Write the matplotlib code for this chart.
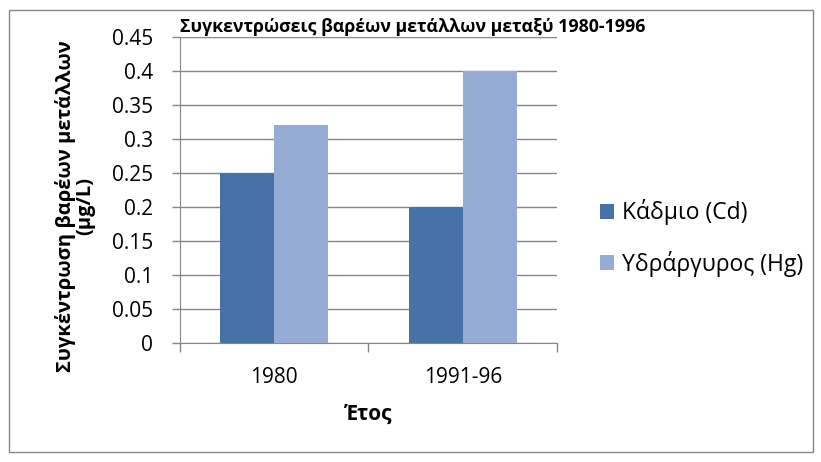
import numpy as np
import matplotlib.pyplot as plt
from matplotlib.patches import Rectangle

plt.rcParams['font.family'] = ['Open Sans', 'DejaVu Sans']

years = ['1980', '1991-96']
cadmium = [0.25, 0.20]
mercury = [0.32, 0.40]
series_names = ['Κάδμιο (Cd)', 'Υδράργυρος (Hg)']
yticks = np.arange(0, 0.451, 0.05)
ytick_labels = ['0', '0.05', '0.1', '0.15', '0.2', '0.25', '0.3', '0.35', '0.4', '0.45']

fig = plt.figure(figsize=(8.21, 4.62), dpi=100)
ax = fig.add_axes([0.2192, 0.2576, 0.4592, 0.6623])

x = np.arange(len(years))
w = 1 / 3.5
ax.bar(x - w / 2, cadmium, w, color='#4672A8', label=series_names[0], zorder=3)
ax.bar(x + w / 2, mercury, w, color='#97ACD5', label=series_names[1], zorder=3)

ax.set_xlim(-0.5, 1.5)
ax.set_ylim(0, 0.45)
ax.set_yticks(yticks)
ax.set_yticklabels(ytick_labels, fontsize=15)
ax.set_xticks(x)
ax.set_xticklabels(years, fontsize=15)
ax.set_xticks([-0.5, 0.5, 1.5], minor=True)
ax.tick_params(axis='x', which='major', length=0, pad=17)
ax.tick_params(axis='x', which='minor', length=6.5, color='#868686', width=1)
ax.tick_params(axis='y', length=5.8, color='#868686', width=1, pad=13.5)
ax.grid(axis='y', color='#868686', linewidth=1, zorder=0)

for side in ['top', 'right']:
    ax.spines[side].set_visible(False)
for side in ['left', 'bottom']:
    ax.spines[side].set_color('#868686')

# axis titles
fig.text(0.449, 0.104, 'Έτος', ha='center', va='center', fontsize=15, fontweight='bold')
fig.text(0.0914, 0.554, 'Συγκέντρωση βαρέων μετάλλων\n(μg/L)', rotation=90,
         ha='center', va='center', fontsize=14.5, fontweight='bold',
         linespacing=1.0, multialignment='center')

fig.text(0.503, 0.9416, 'Συγκεντρώσεις βαρέων μετάλλων μεταξύ 1980-1996',
         ha='center', va='center', fontsize=12.8, fontweight='bold')

fig.legend(loc='center left', bbox_to_anchor=(600 / 821, 0.485), frameon=False,
           fontsize=16.5, borderpad=0, borderaxespad=0,
           handlelength=0.6, handleheight=0.6, handletextpad=0.35, labelspacing=1.1)

fig.patches.append(Rectangle((0.0104, 0.0216), 0.9796, 0.9564, transform=fig.transFigure,
                             fill=False, edgecolor='#868686', linewidth=1))

fig.savefig('out.png', dpi=100)
